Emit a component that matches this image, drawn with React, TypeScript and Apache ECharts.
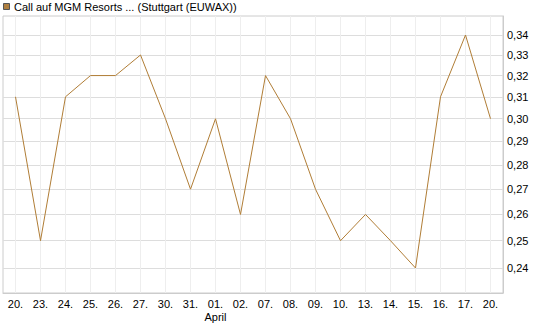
import React, { useEffect, useRef } from "react";
import * as echarts from "echarts";

const categories = ["20.", "23.", "24.", "25.", "26.", "27.", "30.", "31.", "01.", "02.", "07.", "08.", "09.", "10.", "13.", "14.", "15.", "16.", "17.", "20."];
const values = [0.31, 0.25, 0.31, 0.32, 0.32, 0.33, 0.30, 0.27, 0.30, 0.26, 0.32, 0.30, 0.27, 0.25, 0.26, 0.25, 0.24, 0.31, 0.34, 0.30];
const yTicks = [0.24, 0.25, 0.26, 0.27, 0.28, 0.29, 0.30, 0.31, 0.32, 0.33, 0.34];
const monthLabelIndex = 8;
const monthLabel = "April";
const title = "Call auf MGM Resorts ... (Stuttgart (EUWAX))";

const lg = (v: number) => Math.log10(v);

export default function App() {
  const ref = useRef<HTMLDivElement>(null);
  useEffect(() => {
    document.body.style.margin = "0";
    const chart = echarts.init(ref.current!, null, { renderer: "svg" });
    const font = "'Liberation Sans', Arial, sans-serif";
    chart.setOption({
      animation: false,
      backgroundColor: "#fff",
      textStyle: { fontFamily: font },
      grid: {
        left: 3,
        right: 42,
        top: 16,
        bottom: 34,
        show: true,
        borderColor: "#cccccc",
        borderWidth: 1,
        containLabel: false,
      },
      graphic: [
        {
          type: "rect",
          shape: { x: 3.5, y: 3.5, width: 6, height: 6 },
          style: { fill: "#b08040", stroke: "#555", lineWidth: 1 },
        },
        {
          type: "text",
          x: 14,
          y: 7,
          style: {
            text: title,
            fill: "#000",
            font: `11px ${font}`,
            verticalAlign: "middle",
            align: "left",
          },
        },
      ],
      xAxis: {
        type: "value",
        min: -0.5,
        max: categories.length - 0.5,
        axisLine: { show: true, onZero: false, lineStyle: { color: "#cccccc" } },
        axisTick: { show: false, customValues: categories.map((_, i) => i) },
        splitLine: { show: true, lineStyle: { color: "#eeeeee", width: 1 } },
        axisLabel: {
          customValues: categories.map((_, i) => i),
          color: "#000",
          fontSize: 11,
          fontFamily: font,
          margin: 4,
          lineHeight: 13,
          formatter: (v: number) => {
            const i = Math.round(v);
            return i === monthLabelIndex ? `${categories[i]}\n${monthLabel}` : categories[i];
          },
        },
      },
      yAxis: {
        type: "value",
        position: "right",
        min: lg(0.2312),
        max: lg(0.3498),
        axisLine: { show: true, onZero: false, lineStyle: { color: "#cccccc" } },
        axisTick: { show: false, customValues: yTicks.map(lg) },
        splitLine: { show: true, lineStyle: { color: "#dddddd", width: 1 } },
        axisLabel: {
          customValues: yTicks.map(lg),
          color: "#000",
          fontSize: 11,
          fontFamily: font,
          margin: 4,
          formatter: (v: number) => Math.pow(10, v).toFixed(2).replace(".", ","),
        },
      },
      series: [
        {
          type: "line",
          data: values.map((v, i) => [i, lg(v)]),
          showSymbol: false,
          symbol: "none",
          lineStyle: { color: "#b07d36", width: 1 },
          itemStyle: { color: "#b07d36" },
        },
      ],
    });
    return () => chart.dispose();
  }, []);
  return <div ref={ref} style={{ width: 545, height: 327 }} />;
}
